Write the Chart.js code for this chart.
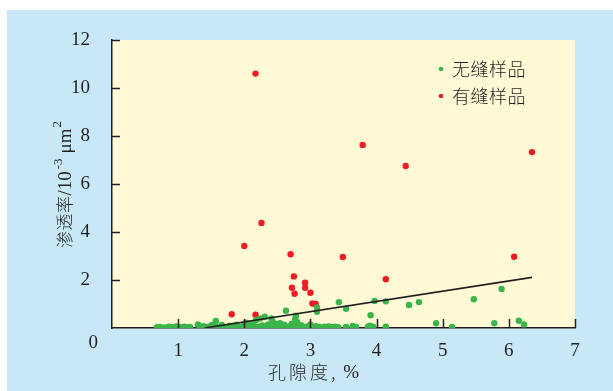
<!DOCTYPE html>
<html>
<head>
<meta charset="utf-8">
<script src="https://cdn.jsdelivr.net/npm/chart.js@4"></script>
<style>
  html, body { margin: 0; padding: 0; background: #ffffff; }
  #wrap { position: absolute; left: 7px; top: 10px; width: 606px; height: 381px; background: #c8e8f8; }
  canvas { display: block; }
</style>
</head>
<body>
<div id="wrap"><canvas id="chart" width="606" height="381"></canvas></div>
<script>
// 无缝样品 (green)
const porosityGreen = [
    0.68, 0.73, 0.80, 0.86, 0.91, 0.97, 1.03, 1.09, 1.13, 1.18,
    1.33, 1.38, 1.44, 1.48, 1.54, 1.60, 1.66, 1.72, 1.78, 1.84,
    1.91, 1.97, 2.03, 2.09, 2.15, 2.21, 2.27, 2.33, 2.39, 2.45,
    2.51, 2.57, 2.63, 2.69, 2.75, 2.81, 2.92, 2.96, 3.02, 3.08,
    3.14, 3.21, 3.27, 3.31, 3.37, 3.42, 3.54, 3.64, 3.69, 3.87,
    3.92, 3.95, 4.14,
    1.30, 1.51, 1.57, 1.66, 2.03, 2.18, 2.24, 2.31, 2.41, 2.43,
    2.54, 2.63, 2.78, 2.77, 2.80, 3.10, 3.10, 3.43, 3.54, 3.91,
    3.97, 4.14, 4.49, 4.64, 4.90, 5.14, 5.47, 5.78, 5.89, 6.15,
    6.23,
    1.88, 2.00, 2.12, 2.36, 2.48, 2.60, 2.72, 2.86, 3.00, 3.90
];
const permGreen = [
    0.03, 0.04, 0.02, 0.05, 0.03, 0.06, 0.04, 0.05, 0.03, 0.04,
    0.05, 0.08, 0.04, 0.06, 0.09, 0.05, 0.07, 0.04, 0.10, 0.06,
    0.08, 0.05, 0.12, 0.07, 0.09, 0.05, 0.11, 0.08, 0.06, 0.10,
    0.07, 0.12, 0.05, 0.09, 0.06, 0.08, 0.04, 0.06, 0.05, 0.07,
    0.04, 0.05, 0.06, 0.04, 0.05, 0.03, 0.04, 0.09, 0.04, 0.05,
    0.06, 0.04, 0.05,
    0.15, 0.13, 0.29, 0.13, 0.22, 0.33, 0.40, 0.47, 0.40, 0.26,
    0.20, 0.72, 0.51, 0.37, 0.25, 0.86, 0.68, 1.07, 0.80, 0.53,
    1.13, 1.11, 0.96, 1.08, 0.20, 0.04, 1.20, 0.20, 1.63, 0.30,
    0.15,
    0.14, 0.16, 0.18, 0.15, 0.17, 0.14, 0.18, 0.12, 0.15, 0.10
];

// 有缝样品 (red)
const porosityRed = [
    1.81, 2.17, 2.00, 2.17, 2.26, 2.70, 2.75, 2.72, 2.76, 2.92,
    2.92, 3.00, 3.03, 3.08, 3.49, 3.79, 4.14, 4.44, 6.08, 6.35
];
const permRed = [
    0.57, 0.55, 3.42, 10.60, 4.38, 3.07, 2.15, 1.68, 1.43, 1.89,
    1.68, 1.47, 1.02, 1.00, 2.96, 7.63, 2.03, 6.75, 2.97, 7.33
];

// trend line
const trendX = [1.40, 6.35];
const trendY = [0.00, 2.11];

const xTicks = [1, 2, 3, 4, 5, 6, 7];
const yTicks = [2, 4, 6, 8, 10, 12];

const legendLabels = ['无缝样品', '有缝样品'];
const GREEN = '#3bb54a';
const RED = '#ee1d25';
const INK = '#231f20';
const SERIF = '"Liberation Serif", "DejaVu Serif", serif';
const CJK = '"Noto Sans CJK SC", sans-serif';

function toPoints(xs, ys) {
    return xs.map((x, i) => ({ x: x, y: ys[i] }));
}

// draw CJK text with extra spacing between characters
function spaced(ctx, text, x, y, gap) {
    let cx = x;
    for (const ch of text) {
        ctx.fillText(ch, cx, y);
        cx += ctx.measureText(ch).width + gap;
    }
    return cx - x;
}

const decorPlugin = {
    id: 'decor',
    beforeDraw(chart) {
        const { ctx, chartArea: a } = chart;
        ctx.save();
        ctx.fillStyle = '#fff9d6';
        ctx.fillRect(a.left, a.top, a.right - a.left, a.bottom - a.top);
        ctx.restore();
    },
    afterDraw(chart) {
        const { ctx, chartArea: a, scales } = chart;
        const xs = scales.x, ys = scales.y;
        ctx.save();
        ctx.strokeStyle = INK;
        ctx.lineWidth = 1.5;
        // inward ticks
        yTicks.forEach(v => {
            const py = Math.round(ys.getPixelForValue(v)) + 0.5;
            ctx.beginPath();
            ctx.moveTo(a.left, py);
            ctx.lineTo(a.left + 8, py);
            ctx.stroke();
        });
        xTicks.forEach(v => {
            const px = Math.round(xs.getPixelForValue(v)) + 0.5;
            ctx.beginPath();
            ctx.moveTo(px, a.bottom);
            ctx.lineTo(px, a.bottom - 9);
            ctx.stroke();
        });

        // shared origin label
        ctx.fillStyle = INK;
        ctx.font = '19px ' + SERIF;
        ctx.textAlign = 'right';
        ctx.textBaseline = 'middle';
        ctx.fillText('0', a.left - 14, a.bottom + 15);

        // x title
        ctx.textAlign = 'left';
        ctx.font = '300 18px ' + CJK;
        const sx = 261;
        const w1 = spaced(ctx, '孔隙度,', sx, 362, 3);
        ctx.font = '19px ' + SERIF;
        ctx.fillText(' %', sx + w1, 363);

        // y title (rotated)
        ctx.save();
        ctx.translate(57, 238);
        ctx.rotate(-Math.PI / 2);
        ctx.textBaseline = 'alphabetic';
        let cx = 0;
        const base = 7;
        ctx.font = '300 17px ' + CJK;
        cx += spaced(ctx, '渗透率', cx, base, 0.5);
        ctx.font = '19px ' + SERIF;
        ctx.fillText('/10', cx, base);
        cx += ctx.measureText('/10').width + 2;
        ctx.font = '13px ' + SERIF;
        ctx.fillText('-3', cx, base - 9);
        cx += ctx.measureText('-3').width + 5;
        ctx.font = '19px ' + SERIF;
        ctx.fillText('μm', cx, base);
        cx += ctx.measureText('μm').width + 1;
        ctx.font = '13px ' + SERIF;
        ctx.fillText('2', cx, base - 10);
        ctx.restore();

        // legend
        const colors = [GREEN, RED];
        legendLabels.forEach((lab, i) => {
            const ly = 59 + i * 27;
            ctx.fillStyle = colors[i];
            ctx.beginPath();
            ctx.arc(434, ly, 2.3, 0, Math.PI * 2);
            ctx.fill();
            ctx.fillStyle = INK;
            ctx.font = '300 18px ' + CJK;
            ctx.textAlign = 'left';
            ctx.textBaseline = 'middle';
            spaced(ctx, lab, 445, ly, 0.5);
        });
        ctx.restore();
    }
};

new Chart(document.getElementById('chart'), {
    type: 'scatter',
    data: {
        datasets: [
            {
                label: 'trend',
                type: 'line',
                data: toPoints(trendX, trendY),
                borderColor: INK,
                borderWidth: 1.6,
                pointRadius: 0,
                fill: false,
                order: 0
            },
            {
                label: legendLabels[0],
                data: toPoints(porosityGreen, permGreen),
                backgroundColor: GREEN,
                borderWidth: 0,
                pointRadius: 3.2,
                order: 1
            },
            {
                label: legendLabels[1],
                data: toPoints(porosityRed, permRed),
                backgroundColor: RED,
                borderWidth: 0,
                pointRadius: 3.2,
                order: 2
            }
        ]
    },
    options: {
        responsive: false,
        animation: false,
        layout: { padding: { top: 30, right: 38, left: 0, bottom: 0 } },
        plugins: {
            legend: { display: false },
            tooltip: { enabled: false }
        },
        scales: {
            x: {
                type: 'linear',
                min: 0,
                max: 7,
                ticks: {
                    stepSize: 1,
                    color: INK,
                    font: { family: SERIF, size: 19 },
                    padding: 4,
                    callback: v => v === 0 ? '' : v
                },
                grid: { display: false },
                border: { display: true, color: INK, width: 1.5 },
                afterFit: s => { s.height = 63; }
            },
            y: {
                min: 0,
                max: 12,
                ticks: {
                    stepSize: 2,
                    color: INK,
                    font: { family: SERIF, size: 19 },
                    padding: 14,
                    callback: v => v === 0 ? '' : v
                },
                grid: { display: false },
                border: { display: true, color: INK, width: 1.5 },
                afterFit: s => { s.width = 105; }
            }
        }
    },
    plugins: [decorPlugin]
});
</script>
</body>
</html>
